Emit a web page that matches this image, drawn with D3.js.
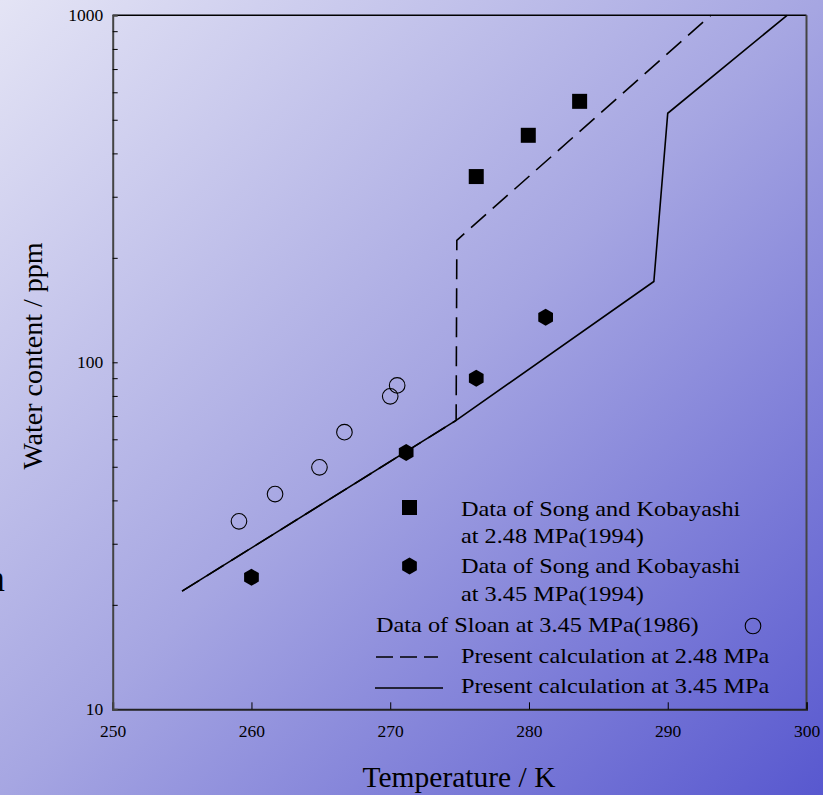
<!DOCTYPE html>
<html>
<head>
<meta charset="utf-8">
<script src="https://cdn.jsdelivr.net/npm/d3@7"></script>
<style>
  body { margin: 0; padding: 0; overflow: hidden; }
  svg { display: block; font-family: "Liberation Serif", "Times New Roman", serif; }
</style>
</head>
<body>
<svg id="chart"></svg>
<script>
// data
var songT248 = [276.2, 279.95, 283.65];
var songW248 = [343, 451, 565];

var songT345 = [260.0, 271.15, 276.2, 281.2];
var songW345 = [24.0, 55.0, 89.9, 134.8];

var sloanT = [259.1, 261.7, 264.9, 266.7, 270.0, 270.5];
var sloanW = [34.8, 41.7, 49.8, 62.9, 79.8, 85.8];

var calcT248 = [255.0, 274.75, 274.8, 293.1];
var calcW248 = [21.9, 68.0, 224.7, 1000];

var calcT345 = [255.0, 274.75, 289.0, 290.0, 298.6];
var calcW345 = [21.9, 68.0, 171, 522, 1000];

var xTicks = [250, 260, 270, 280, 290, 300];
var yLabels = [10, 100, 1000];
var yMinor = [20, 30, 40, 50, 60, 70, 80, 90, 100, 200, 300, 400, 500, 600, 700, 800, 900];

var width = 823, height = 795;
var svg = d3.select("#chart").attr("width", width).attr("height", height);

// background gradient
var defs = svg.append("defs");
var grad = defs.append("linearGradient").attr("id", "bg")
    .attr("x1", "0").attr("y1", "0").attr("x2", "1").attr("y2", "1");
grad.append("stop").attr("offset", "0%").attr("stop-color", "#e4e4f5");
grad.append("stop").attr("offset", "50%").attr("stop-color", "#a6a6e2");
grad.append("stop").attr("offset", "100%").attr("stop-color", "#5858cf");
svg.append("rect").attr("width", width).attr("height", height).attr("fill", "url(#bg)");

var x = d3.scaleLinear().domain([250, 300]).range([112.7, 806.5]);
var y = d3.scaleLog().domain([10, 1000]).range([709.3, 15.3]);

// frame
svg.append("line").attr("x1", x(250)).attr("x2", x(300)).attr("y1", y(1000)).attr("y2", y(1000))
    .attr("stroke", "#000").attr("stroke-width", 1.5);
svg.append("line").attr("x1", x(300)).attr("x2", x(300)).attr("y1", y(1000)).attr("y2", y(10))
    .attr("stroke", "#444").attr("stroke-width", 2);

// x axis
var xAxis = svg.append("g").attr("transform", "translate(0," + y(10) + ")")
    .call(d3.axisBottom(x).tickValues(xTicks).tickSize(-7).tickPadding(15.5).tickFormat(d3.format("d")));
xAxis.select(".domain").attr("stroke", "#222").attr("stroke-width", 2);
xAxis.selectAll("text").attr("font-size", 17.5).attr("fill", "#000").attr("font-family", "Liberation Serif");

// y axis: minor ticks
var yAxis = svg.append("g").attr("transform", "translate(" + x(250) + ",0)")
    .call(d3.axisLeft(y).tickValues(yMinor).tickSize(-5).tickFormat(""));
yAxis.select(".domain").attr("stroke", "#444").attr("stroke-width", 2);

// y axis labels
var yLab = svg.append("g").attr("transform", "translate(" + x(250) + ",0)")
    .call(d3.axisLeft(y).tickValues(yLabels).tickSize(0).tickPadding(9.5).tickFormat(d3.format("d")));
yLab.select(".domain").remove();
yLab.selectAll("text").attr("font-size", 17.5).attr("fill", "#000").attr("font-family", "Liberation Serif");

// axis titles
svg.append("text").attr("x", 459).attr("y", 787).attr("text-anchor", "middle")
    .attr("font-size", 29.5).text("Temperature / K");
svg.append("text").attr("transform", "translate(42,356) rotate(-90)").attr("text-anchor", "middle")
    .attr("font-size", 28).text("Water content / ppm");
svg.append("text").attr("x", 5).attr("y", 591).attr("text-anchor", "end")
    .attr("font-size", 38).text("n");

// calculated lines
var line = d3.line().x(function(d) { return x(d[0]); }).y(function(d) { return y(d[1]); });
svg.append("path").datum(d3.zip(calcT345, calcW345)).attr("d", line)
    .attr("fill", "none").attr("stroke", "#000").attr("stroke-width", 1.6);
svg.append("path").datum(d3.zip(calcT248, calcW248)).attr("d", line)
    .attr("fill", "none").attr("stroke", "#000").attr("stroke-width", 1.6)
    .attr("stroke-dasharray", "20,9");

// hexagon path
function hexagon(cx, cy, r) {
    var p = d3.path();
    for (var i = 0; i < 6; i++) {
        var a = Math.PI / 3 * i - Math.PI / 2;
        if (i == 0) p.moveTo(cx + r * Math.cos(a), cy + r * Math.sin(a));
        else p.lineTo(cx + r * Math.cos(a), cy + r * Math.sin(a));
    }
    p.closePath();
    return p.toString();
}

// markers
svg.append("g").selectAll("rect").data(d3.zip(songT248, songW248)).enter().append("rect")
    .attr("x", function(d) { return x(d[0]) - 7.5; })
    .attr("y", function(d) { return y(d[1]) - 7.5; })
    .attr("width", 15).attr("height", 15).attr("fill", "#000");

svg.append("g").selectAll("path").data(d3.zip(songT345, songW345)).enter().append("path")
    .attr("d", function(d) { return hexagon(x(d[0]), y(d[1]), 8.5); })
    .attr("fill", "#000");

svg.append("g").selectAll("circle").data(d3.zip(sloanT, sloanW)).enter().append("circle")
    .attr("cx", function(d) { return x(d[0]); })
    .attr("cy", function(d) { return y(d[1]); })
    .attr("r", 7.8).attr("fill", "none").attr("stroke", "#000").attr("stroke-width", 1.1);

// legend (text is a bit stretched sideways in the original)
var leg = svg.append("g");
function legText(tx, ty, s) {
    leg.append("text").attr("transform", "translate(" + tx + "," + ty + ") scale(1.105,1)")
        .attr("font-size", 22).text(s);
}
leg.append("rect").attr("x", 402).attr("y", 500).attr("width", 15).attr("height", 15).attr("fill", "#000");
legText(461, 516, "Data of Song and Kobayashi");
legText(461, 543, "at 2.48 MPa(1994)");
leg.append("path").attr("d", hexagon(409.5, 566, 8.5)).attr("fill", "#000");
legText(461, 573, "Data of Song and Kobayashi");
legText(461, 601, "at 3.45 MPa(1994)");
legText(376, 632, "Data of Sloan at 3.45 MPa(1986)");
leg.append("circle").attr("cx", 753).attr("cy", 626).attr("r", 7.8)
    .attr("fill", "none").attr("stroke", "#000").attr("stroke-width", 1.1);
leg.append("line").attr("x1", 376).attr("x2", 438).attr("y1", 657).attr("y2", 657)
    .attr("stroke", "#000").attr("stroke-width", 1.6).attr("stroke-dasharray", "17,7");
legText(461, 663, "Present calculation at 2.48 MPa");
leg.append("line").attr("x1", 375).attr("x2", 443).attr("y1", 688).attr("y2", 688)
    .attr("stroke", "#000").attr("stroke-width", 1.6);
legText(461, 693, "Present calculation at 3.45 MPa");
</script>
</body>
</html>
